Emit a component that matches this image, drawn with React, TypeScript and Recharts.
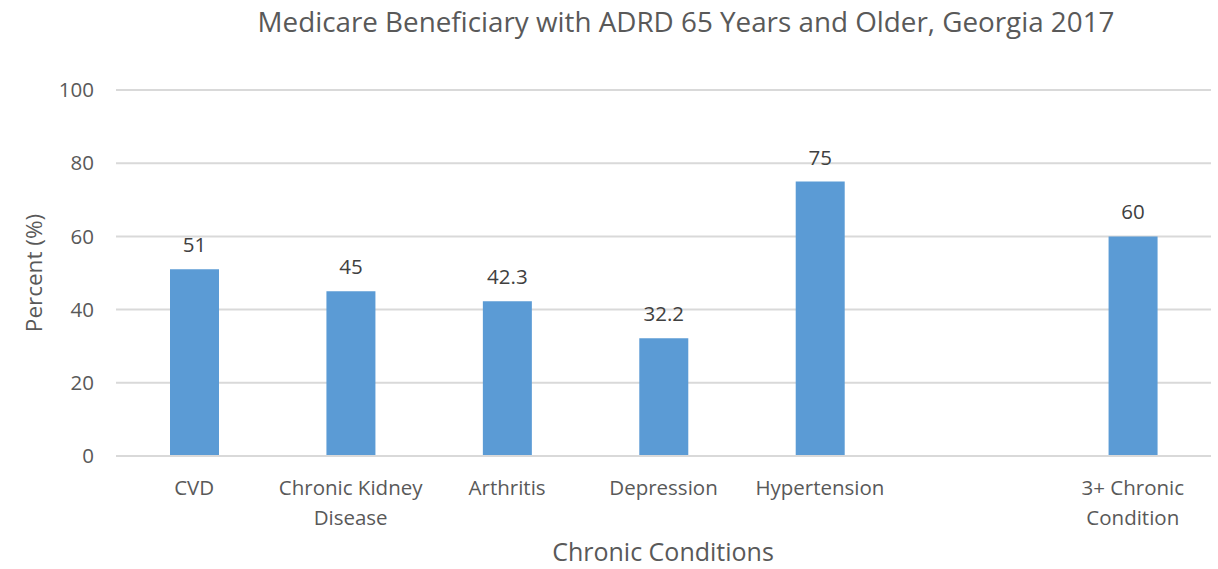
import React from "react";
import { BarChart, Bar, XAxis, YAxis, CartesianGrid, LabelList } from "recharts";

const categories = ["CVD", "Chronic Kidney Disease", "Arthritis", "Depression", "Hypertension", "", "3+ Chronic Condition"];
const values: (number | null)[] = [51, 45, 42.3, 32.2, 75, null, 60];
const categoryLines: string[][] = [["CVD"], ["Chronic Kidney", "Disease"], ["Arthritis"], ["Depression"], ["Hypertension"], [], ["3+ Chronic", "Condition"]];
const yTicks = [0, 20, 40, 60, 80, 100];

const data = categories.map((c, i) => ({ name: c, value: values[i], idx: i }));

const FONT = "'Open Sans', sans-serif";
const GREY = "#595959";

const XTick = (props: any) => {
  const { x, y, payload } = props;
  const lines = categoryLines[payload.index] || [];
  return (
    <g>
      {lines.map((l, i) => (
        <text key={i} x={x} y={y + 31 + i * 30} textAnchor="middle" fill={GREY} fontSize={20.5} fontFamily={FONT}>
          {l}
        </text>
      ))}
    </g>
  );
};

const ValueLabel = (props: any) => {
  const { x, y, width, value } = props;
  if (value === null || value === undefined) return null;
  return (
    <text x={x + width / 2} y={y - 17} textAnchor="middle" fill="#404040" fontSize={20.5} fontFamily={FONT}>
      {value}
    </text>
  );
};

export default function App() {
  return (
    <div style={{ position: "absolute", left: 0, top: 0, width: 1218, height: 569, background: "#fff" }}>
      <BarChart width={1218} height={569} data={data} margin={{ top: 90, right: 7, bottom: 0, left: 0 }} barSize={49}>
        <CartesianGrid vertical={false} stroke="#d9d9d9" strokeWidth={2} />
        <XAxis
          dataKey="name"
          interval={0}
          height={113}
          tick={<XTick />}
          tickLine={false}
          axisLine={{ stroke: "#d9d9d9", strokeWidth: 2 }}
        />
        <YAxis
          domain={[0, 100]}
          ticks={yTicks}
          width={116}
          tickSize={0}
          tickMargin={22}
          axisLine={false}
          tickLine={false}
          tick={{ fill: GREY, fontSize: 20.5, fontFamily: FONT }}
        />
        <Bar dataKey="value" fill="#5b9bd5" isAnimationActive={false}>
          <LabelList dataKey="value" content={<ValueLabel />} />
        </Bar>
        <text x={686} y={32} textAnchor="middle" fill={GREY} fontSize={27.8} fontFamily={FONT}>
          Medicare Beneficiary with ADRD 65 Years and Older, Georgia 2017
        </text>
        <text x={663} y={561} textAnchor="middle" fill={GREY} fontSize={25} fontFamily={FONT}>
          Chronic Conditions
        </text>
        <text x={42} y={273} textAnchor="middle" fill={GREY} fontSize={22.5} fontFamily={FONT} transform="rotate(-90 42 273)">
          Percent (%)
        </text>
      </BarChart>
    </div>
  );
}
